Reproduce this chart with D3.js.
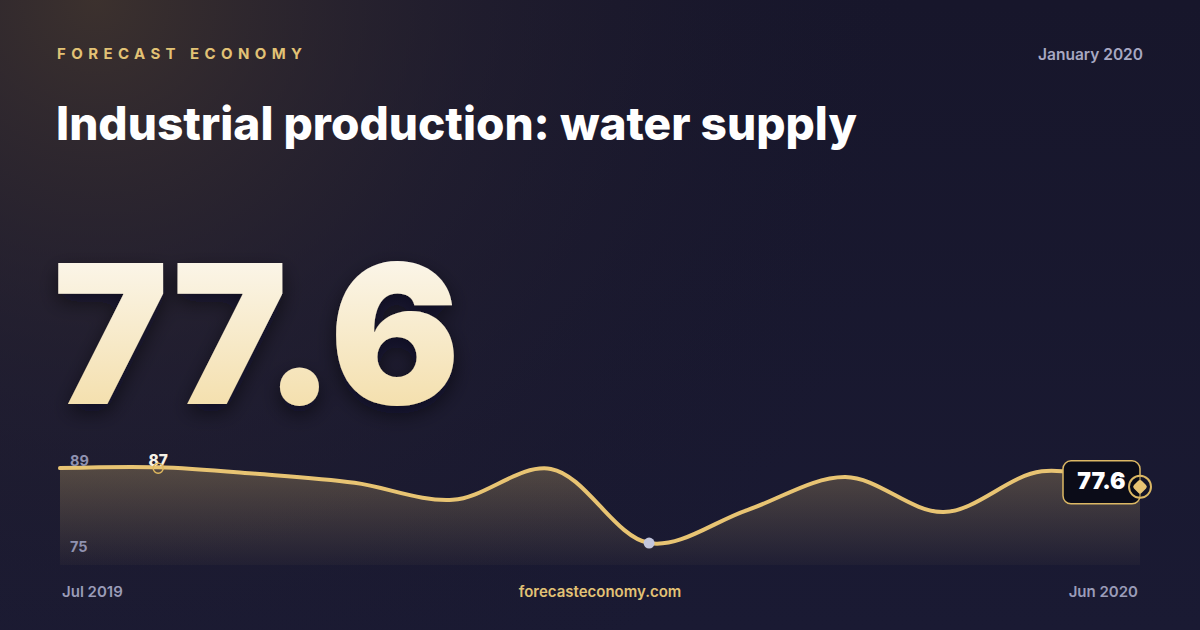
<!DOCTYPE html>
<html><head><meta charset="utf-8">
<script src="https://cdn.jsdelivr.net/npm/d3@7"></script>
<style>
html,body{margin:0;padding:0;background:#15152a;}
svg{display:block;font-family:Inter, "Noto Sans", sans-serif;}
</style></head>
<body>
<svg id="c" width="1200" height="630"></svg>
<script>
const brand = "FORECAST ECONOMY";
const period = "January 2020";
const title = "Industrial production: water supply";
const headline = "77.6";
const site = "forecasteconomy.com";
const months = ["Jul 2019","Aug 2019","Sep 2019","Oct 2019","Nov 2019","Dec 2019","Jan 2020","Feb 2020","Mar 2020","Apr 2020","May 2020","Jun 2020"];
const values = [86.9, 87.0, 86.2, 85.1, 83.0, 86.8, 77.7, 81.75, 85.8, 81.5, 86.5, 84.6];
const yTickLabels = [89, 75];
const lastLabel = "77.6";

const svg = d3.select("#c");
const defs = svg.append("defs");

const bg = defs.append("linearGradient").attr("id","bg").attr("x1",0).attr("y1",0).attr("x2",0).attr("y2",1);
bg.append("stop").attr("offset","0%").attr("stop-color","#17162b");
bg.append("stop").attr("offset","100%").attr("stop-color","#1a1a33");
const glow = defs.append("radialGradient").attr("id","glow").attr("cx",0.08).attr("cy",0).attr("r",0.7)
  .attr("gradientTransform","scale(1,1.9)");
glow.append("stop").attr("offset","0%").attr("stop-color","#40342e").attr("stop-opacity",0.9);
glow.append("stop").attr("offset","45%").attr("stop-color","#2a2430").attr("stop-opacity",0.45);
glow.append("stop").attr("offset","100%").attr("stop-color","#17162b").attr("stop-opacity",0);

const numGrad = defs.append("linearGradient").attr("id","num").attr("x1",0).attr("y1",0).attr("x2",0).attr("y2",1);
numGrad.append("stop").attr("offset","0%").attr("stop-color","#fdfcfa");
numGrad.append("stop").attr("offset","100%").attr("stop-color","#f2d99c");

const areaGrad = defs.append("linearGradient").attr("id","area").attr("x1",0).attr("y1",0).attr("x2",0).attr("y2",1);
areaGrad.append("stop").attr("offset","0%").attr("stop-color","#e8c473").attr("stop-opacity",0.27);
areaGrad.append("stop").attr("offset","100%").attr("stop-color","#e8c473").attr("stop-opacity",0.03);

const sh = defs.append("filter").attr("id","shadow").attr("x","-10%").attr("y","-10%").attr("width","130%").attr("height","140%");
sh.append("feDropShadow").attr("dx",0).attr("dy",8).attr("stdDeviation",10).attr("flood-color","#05050c").attr("flood-opacity",0.55);

svg.append("rect").attr("width",1200).attr("height",630).attr("fill","url(#bg)");
svg.append("rect").attr("width",1200).attr("height",630).attr("fill","url(#glow)");

// header
svg.append("text").attr("x",57).attr("y",59).text(brand)
  .attr("fill","#e2c275").attr("font-size",15).attr("font-weight",700).attr("letter-spacing","0.36em");
svg.append("text").attr("x",1143).attr("y",60).attr("text-anchor","end").text(period)
  .attr("fill","#a7a8c2").attr("font-size",15.5).attr("font-weight",600);
svg.append("text").attr("x",56).attr("y",140).text(title)
  .attr("fill","#ffffff").attr("font-size",46).attr("font-weight",800);

// headline number
svg.append("text").attr("x",53).attr("y",404).text(headline)
  .attr("fill","url(#num)").attr("font-size",194).attr("font-weight",900)
  .attr("filter","url(#shadow)");

// chart
const x = d3.scalePoint().domain(months).range([60,1140]);
const y = d3.scaleLinear().domain([75,89]).range([565,451]);
const data = months.map((m,i)=>({m, v: values[i]}));
const curve = d3.curveCatmullRom.alpha(0.5);

const area = d3.area().x(d=>x(d.m)).y0(565).y1(d=>y(d.v)).curve(curve);
const line = d3.line().x(d=>x(d.m)).y(d=>y(d.v)).curve(curve);

svg.append("path").datum(data).attr("d",area).attr("fill","url(#area)");
svg.append("path").datum(data).attr("d",line).attr("fill","none")
  .attr("stroke","#e8c473").attr("stroke-width",4).attr("stroke-linejoin","round").attr("stroke-linecap","round");

// y labels
svg.append("text").attr("x",70).attr("y",y(yTickLabels[0])+15).text(yTickLabels[0])
  .attr("fill","#9092b0").attr("font-size",14.5).attr("font-weight",700);
svg.append("text").attr("x",70).attr("y",y(yTickLabels[1])-13).text(yTickLabels[1])
  .attr("fill","#9092b0").attr("font-size",14.5).attr("font-weight",700);

// max marker
const maxI = d3.maxIndex(values);
svg.append("text").attr("x",x(months[maxI])).attr("y",y(values[maxI])-1).attr("text-anchor","middle")
  .text(d3.format(".0f")(Math.floor(values[maxI])))
  .attr("fill","#f6f1e6").attr("font-size",15.5).attr("font-weight",800);
svg.append("circle").attr("cx",x(months[maxI])).attr("cy",y(values[maxI])+1).attr("r",5)
  .attr("fill","none").attr("stroke","#e0b85e").attr("stroke-width",1.5);

// min marker
const minI = d3.minIndex(values);
svg.append("circle").attr("cx",x(months[minI])).attr("cy",y(values[minI])).attr("r",5.5).attr("fill","#c3c6dd");

// last value box
const lx = x(months[months.length-1]), ly = y(values[values.length-1]);
svg.append("rect").attr("x",lx-77).attr("y",ly-26).attr("width",77).attr("height",43).attr("rx",8)
  .attr("fill","#0b0c18").attr("stroke","#dcb864").attr("stroke-width",1.5);
svg.append("text").attr("x",lx-38.5).attr("y",ly+2).attr("text-anchor","middle").text(lastLabel)
  .attr("fill","#ffffff").attr("font-size",23).attr("font-weight",900);
svg.append("circle").attr("cx",lx).attr("cy",ly).attr("r",11).attr("fill","#0b0c18").attr("fill-opacity",0.3)
  .attr("stroke","#dcb864").attr("stroke-width",2);
svg.append("rect").attr("x",lx-5.5).attr("y",ly-5.5).attr("width",11).attr("height",11).attr("rx",2.5)
  .attr("transform",`rotate(45,${lx},${ly})`).attr("fill","#e8c473");

// x labels
svg.append("text").attr("x",62).attr("y",597).text(months[0])
  .attr("fill","#9a9cb8").attr("font-size",15).attr("font-weight",600);
svg.append("text").attr("x",1138).attr("y",597).attr("text-anchor","end").text(months[months.length-1])
  .attr("fill","#9a9cb8").attr("font-size",15).attr("font-weight",600);
svg.append("text").attr("x",600).attr("y",597).attr("text-anchor","middle").text(site)
  .attr("fill","#e2c275").attr("font-size",15).attr("font-weight",600);
</script>
</body></html>
